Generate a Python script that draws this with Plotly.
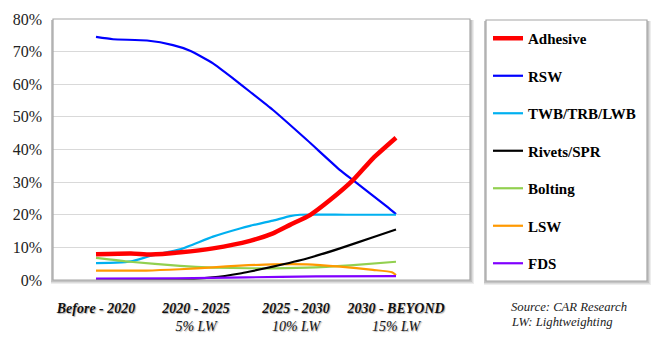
import plotly.graph_objects as go

categories = ["Before - 2020", "2020 - 2025", "2025 - 2030", "2030 - BEYOND"]
cat_sub = ["", "5% LW", "10% LW", "15% LW"]
cat_pos = [0, 1, 2, 3]

# Series (x in category units, y in %)
adh_x = [0, 0.35, 0.55, 0.85, 1.17, 1.54, 1.77, 1.94, 2.14, 2.34, 2.57, 2.77, 3.0]
adh_y = [7.9, 8.1, 7.8, 8.5, 9.7, 12.0, 14.3, 16.9, 19.9, 24.5, 30.6, 37.3, 43.6]

rsw_x = [0, 0.17, 0.51, 0.77, 0.94, 1.17, 1.37, 1.54, 1.77, 2.11, 2.44, 2.57, 2.91, 3.0]
rsw_y = [74.5, 73.8, 73.4, 72.0, 70.3, 66.4, 61.8, 57.7, 52.1, 42.9, 33.7, 30.6, 22.5, 20.2]

twb_x = [0, 0.2, 0.35, 0.56, 0.84, 1.17, 1.44, 1.54, 1.77, 1.94, 2.04, 2.5, 3.0]
twb_y = [5.2, 5.3, 5.7, 7.5, 9.4, 13.3, 15.8, 16.6, 18.2, 19.6, 20.0, 20.0, 20.0]

riv_x = [0, 0.4, 0.8, 1.17, 1.44, 1.54, 1.77, 2.11, 2.44, 2.77, 3.0]
riv_y = [0.3, 0.1, 0.1, 0.8, 2.0, 2.6, 4.1, 6.6, 9.7, 13.1, 15.5]

bol_x = [0, 0.34, 0.84, 1.17, 1.54, 2.11, 2.54, 3.0]
bol_y = [6.8, 5.6, 4.3, 3.8, 3.6, 3.8, 4.5, 5.6]

lsw_x = [0, 0.5, 0.84, 1.17, 1.44, 1.77, 2.11, 2.44, 2.77, 2.96, 3.0]
lsw_y = [2.9, 2.9, 3.3, 3.9, 4.4, 4.8, 4.8, 4.1, 3.1, 2.4, 1.5]

fds_x = [0, 0.8, 1.5, 2.2, 3.0]
fds_y = [0.4, 0.5, 0.8, 1.1, 1.2]

y_ticks = [0, 10, 20, 30, 40, 50, 60, 70, 80]

series = [
    ("Adhesive", adh_x, adh_y, "#FF0000", 4.5),
    ("RSW", rsw_x, rsw_y, "#0000FF", 2.2),
    ("TWB/TRB/LWB", twb_x, twb_y, "#00B0F0", 2.2),
    ("Rivets/SPR", riv_x, riv_y, "#000000", 2.2),
    ("Bolting", bol_x, bol_y, "#92D050", 2.2),
    ("LSW", lsw_x, lsw_y, "#FF9900", 2.2),
    ("FDS", fds_x, fds_y, "#8000FF", 2.2),
]

SERIF = "Liberation Serif"

fig = go.Figure()
order = [1, 2, 4, 5, 3, 6, 0]
for i in order:
    name, xs, ys, col, w = series[i]
    fig.add_trace(go.Scatter(
        x=xs, y=ys, mode="lines", name="<b>" + name + "</b>", legendgroup=name, legendrank=i + 1,
        line=dict(color=col, width=w, shape="spline", smoothing=0.5),
    ))

W, H = 659, 341
L, R, T, B = 53, 470, 19, 280

def px(x):
    return (x - L) / (R - L)

def py(y):
    return (B - y) / (B - T)

shapes = []
for off, col in [(4, "#EDEDED"), (3, "#DCDCDC"), (2, "#C4C4C4")]:
    shapes.append(dict(type="rect", xref="paper", yref="paper", layer="below",
                       x0=px(L - 2), x1=px(R + off), y0=py(B + off), y1=py(T + 1),
                       fillcolor=col, line=dict(width=0)))
shapes.append(dict(type="rect", xref="paper", yref="paper", layer="below",
                   x0=0, x1=1, y0=0, y1=1, fillcolor="white", line=dict(width=0)))
shapes.append(dict(type="rect", xref="paper", yref="paper", layer="above",
                   x0=0, x1=1, y0=0, y1=1, fillcolor="rgba(0,0,0,0)",
                   line=dict(color="#A6A6A6", width=1.2)))
LX0, LX1, LY0, LY1 = 486, 647, 20, 281
for off, col in [(4, "#EDEDED"), (3, "#DCDCDC"), (2, "#C4C4C4")]:
    shapes.append(dict(type="rect", xref="paper", yref="paper", layer="below",
                       x0=px(LX0 - 2), x1=px(LX1 + off), y0=py(LY1 + off), y1=py(LY0 + 1),
                       fillcolor=col, line=dict(width=0)))
shapes.append(dict(type="rect", xref="paper", yref="paper", layer="below",
                   x0=px(LX0), x1=px(LX1), y0=py(LY1), y1=py(LY0),
                   fillcolor="white", line=dict(color="#A6A6A6", width=1.2)))

ticktext = []
for c, s in zip(categories, cat_sub):
    t = "<b><i>" + c + "</i></b>"
    if s:
        t += "<br><i>" + s + "</i>"
    ticktext.append(t)

fig.update_layout(
    width=W, height=H,
    font=dict(family=SERIF, color="#000000"),
    margin=dict(l=L, r=W - R, t=T, b=H - B, pad=0, autoexpand=False),
    paper_bgcolor="white", plot_bgcolor="rgba(0,0,0,0)",
    shapes=shapes,
    showlegend=True,
    legend=dict(
        x=px(488), y=py(22), xanchor="left", yanchor="top",
        bgcolor="rgba(0,0,0,0)", borderwidth=0, maxheight=330,
        font=dict(family=SERIF, size=15, color="#000000"),
        tracegroupgap=15, itemwidth=30, traceorder="grouped",
    ),
    xaxis=dict(
        range=[-0.43, 3.74], showgrid=False, zeroline=False, showline=False,
        tickmode="array", tickvals=cat_pos, ticktext=ticktext, ticks="",
        ticklabelstandoff=18, automargin=False,
        tickfont=dict(family=SERIF, size=14, color="#111111",
                      shadow="1px 1px 1px #b0b0b0"),
    ),
    yaxis=dict(
        range=[0, 80], showgrid=True, gridcolor="#D9D9D9", gridwidth=1,
        zeroline=False, showline=False, ticks="", automargin=False,
        tickmode="array", tickvals=y_ticks, ticktext=[f"{v}%" for v in y_ticks],
        ticklabelstandoff=10,
        tickfont=dict(family=SERIF, size=16, color="#222222"),
    ),
    annotations=[
        dict(xref="paper", yref="paper", x=px(509), y=py(307), xanchor="left", yanchor="middle",
             text="<i>Source: CAR Research</i>", showarrow=False,
             font=dict(family=SERIF, size=12.7, color="#222222")),
        dict(xref="paper", yref="paper", x=px(509), y=py(322), xanchor="left", yanchor="middle",
             text="<i>LW: Lightweighting</i>", showarrow=False,
             font=dict(family=SERIF, size=12.7, color="#222222")),
    ],
)

fig.write_html("out.html")
